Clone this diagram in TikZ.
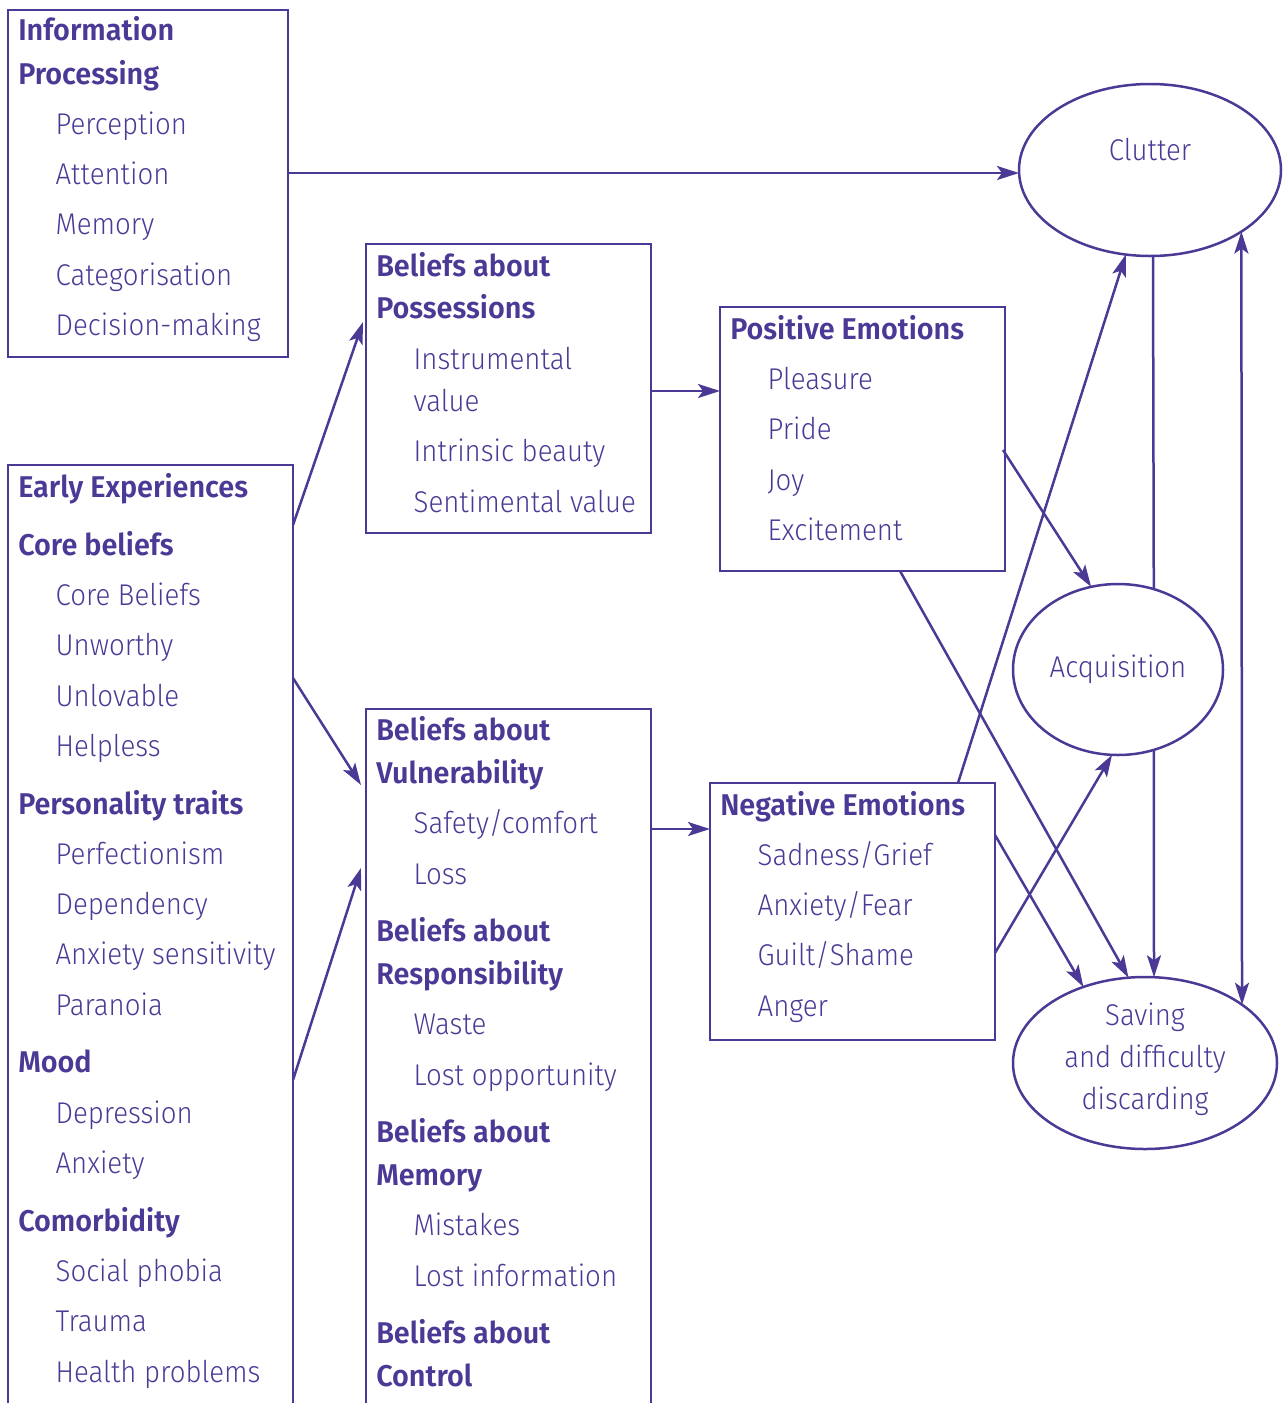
\documentclass[tikz,border=0pt]{standalone}
\usepackage{fontspec}
\setmainfont{Fira Sans Light}
\newfontfamily\hdfont{Fira Sans SemiBold}[FakeStretch=0.96]
\newfontfamily\itfont{Fira Sans Light}[FakeStretch=0.92]
\usetikzlibrary{shapes.geometric,arrows.meta,calc}
\definecolor{purp}{RGB}{76,57,150}
\begin{document}
\begin{tikzpicture}[x=0.5pt,y=-0.5pt,line width=1.25pt,draw=purp,
  box/.style={draw=purp,rectangle,inner sep=0pt,outer sep=0pt,line width=1.25pt},
  oval/.style={draw=purp,ellipse,fill=white,inner sep=0pt,outer sep=0pt,line width=1.25pt},
  hd/.style={anchor=base west,inner sep=0pt,xshift=-0.5pt,font=\hdfont\fontsize{15}{17}\selectfont,text=purp},
  it/.style={anchor=base west,inner sep=0pt,xshift=-0.8pt,font=\itfont\fontsize{15}{17}\selectfont,text=purp},
  ct/.style={anchor=base,inner sep=0pt,font=\itfont\fontsize{15}{17}\selectfont,text=purp},
  arr/.style={-{Stealth[length=11pt,width=7pt,inset=2.5pt]},draw=purp,line width=1.25pt},
  arrb/.style={{Stealth[length=11pt,width=7pt,inset=2.5pt]}-{Stealth[length=11pt,width=7pt,inset=2.5pt]},draw=purp,line width=1.25pt}]
\path[use as bounding box] (0,0) rectangle (1285,1403);
\clip (0,0) rectangle (1285,1403);

% boxes
\node[box,minimum width=140pt,minimum height=173.5pt] (info) at (148,183.5) {};
\node[box,minimum width=142.5pt,minimum height=477.5pt] (early) at (150.5,942.5) {};
\node[box,minimum width=142.5pt,minimum height=144.5pt] (poss) at (508.5,388.5) {};
\node[box,minimum width=142.5pt,minimum height=355.5pt] (vul) at (508.5,1064.5) {};
\node[box,minimum width=142.5pt,minimum height=132pt] (pos) at (862.5,439) {};
\node[box,minimum width=142.5pt,minimum height=128.5pt] (neg) at (852.5,911.5) {};
\node[oval,minimum width=131pt,minimum height=86pt] (clutter) at (1150,170) {};
\node[oval,minimum width=105pt,minimum height=85.5pt] (acq) at (1118,669.5) {};
\node[oval,minimum width=132pt,minimum height=86pt] (saving) at (1145,1063) {};

% info processing
\node[hd] (i1) at (18,40) {Information};
\node[hd] (i2) at (18,84) {Processing};
\node[it] (i3) at (56,134) {Perception};
\node[it] (i4) at (56,184) {Attention};
\node[it] (i5) at (56,234) {Memory};
\node[it] (i6) at (56,285) {Categorisation};
\node[it] (i7) at (56,335) {Decision-making};

% early experiences
\node[hd] (e1) at (18,497) {Early Experiences};
\node[hd] (e2) at (18,555) {Core beliefs};
\node[it] (e3) at (56,605) {Core Beliefs};
\node[it] (e4) at (56,655) {Unworthy};
\node[it] (e5) at (56,706) {Unlovable};
\node[it] (e6) at (56,756) {Helpless};
\node[hd] (e7) at (18,814) {Personality traits};
\node[it] (e8) at (56,864) {Perfectionism};
\node[it] (e9) at (56,914) {Dependency};
\node[it] (e10) at (56,964) {Anxiety sensitivity};
\node[it] (e11) at (56,1015) {Paranoia};
\node[hd] (e12) at (18,1072) {Mood};
\node[it] (e13) at (56,1123) {Depression};
\node[it] (e14) at (56,1173) {Anxiety};
\node[hd] (e15) at (18,1231) {Comorbidity};
\node[it] (e16) at (56,1281) {Social phobia};
\node[it] (e17) at (56,1331) {Trauma};
\node[it] (e18) at (56,1382) {Health problems};

% beliefs about possessions
\node[hd] (p1) at (376,276) {Beliefs about};
\node[hd] (p2) at (376,318) {Possessions};
\node[it] (p3) at (414,369) {Instrumental};
\node[it] (p4) at (414,411) {value};
\node[it] (p5) at (414,461) {Intrinsic beauty};
\node[it] (p6) at (414,512) {Sentimental value};

% beliefs about vulnerability etc.
\node[hd] (v1) at (376,740) {Beliefs about};
\node[hd] (v2) at (376,783) {Vulnerability};
\node[it] (v3) at (414,833) {Safety/comfort};
\node[it] (v4) at (414,884) {Loss};
\node[hd] (v5) at (376,941) {Beliefs about};
\node[hd] (v6) at (376,984) {Responsibility};
\node[it] (v7) at (414,1034) {Waste};
\node[it] (v8) at (414,1085) {Lost opportunity};
\node[hd] (v9) at (376,1142) {Beliefs about};
\node[hd] (v10) at (376,1185) {Memory};
\node[it] (v11) at (414,1235) {Mistakes};
\node[it] (v12) at (414,1286) {Lost information};
\node[hd] (v13) at (376,1343) {Beliefs about};
\node[hd] (v14) at (376,1386) {Control};

% positive emotions
\node[hd] (q1) at (730,339) {Positive Emotions};
\node[it] (q2) at (768,389) {Pleasure};
\node[it] (q3) at (768,439) {Pride};
\node[it] (q4) at (768,490) {Joy};
\node[it] (q5) at (768,540) {Excitement};

% negative emotions
\node[hd] (n1) at (720,815) {Negative Emotions};
\node[it] (n2) at (758,865) {Sadness/Grief};
\node[it] (n3) at (758,915) {Anxiety/Fear};
\node[it] (n4) at (758,965) {Guilt/Shame};
\node[it] (n5) at (758,1016) {Anger};

% ellipse labels
\node[ct] (c1) at (1150,160) {Clutter};
\node[ct] (c2) at (1118,677) {Acquisition};
\node[ct] (c3) at (1145,1025) {Saving};
\node[ct] (c4) at (1145,1067) {and difficulty};
\node[ct] (c5) at (1145,1109) {discarding};

% connectors
\draw[arr] ($(info.east)+(0,-10.5)$) coordinate (a1s) -- (a1s -| clutter.west);
\draw[arr] ($(early.north east)+(0,60)$) -- ($(poss.west)+(-3,-66.5)$);
\draw[arr] ($(early.north east)+(0,213)$) -- ($(vul.north west)+(-5,76)$);
\draw[arr] ($(early.north east)+(0,615)$) -- ($(vul.north west)+(-5,159)$);
\draw[arr] ($(poss.east)+(0,2.5)$) coordinate (a5s) -- (a5s -| pos.west);
\draw[arr] ($(vul.north east)+(0,120)$) coordinate (a6s) -- (a6s -| neg.west);
\draw[arr] ($(pos.east)+(-2,11)$) -- (acq.108.6);
\draw[arr] ($(pos.south)+(37.5,0)$) -- (saving.101.7);
\draw[arr] ($(neg.north)+(105.5,0)$) -- (clutter.254);
\draw[arr] ($(neg.east)+(0,-76.5)$) -- (saving.129);
\draw[arr] ($(neg.east)+(0,41.5)$) -- (acq.266);
\draw[line width=1.25pt] (clutter.-88) -- (acq.66.4);
\draw[arr] (acq.-66.4) -- (saving.84.7);
\draw[arrb] (clutter.-34.3) -- (saving.31.6);
\end{tikzpicture}
\end{document}
